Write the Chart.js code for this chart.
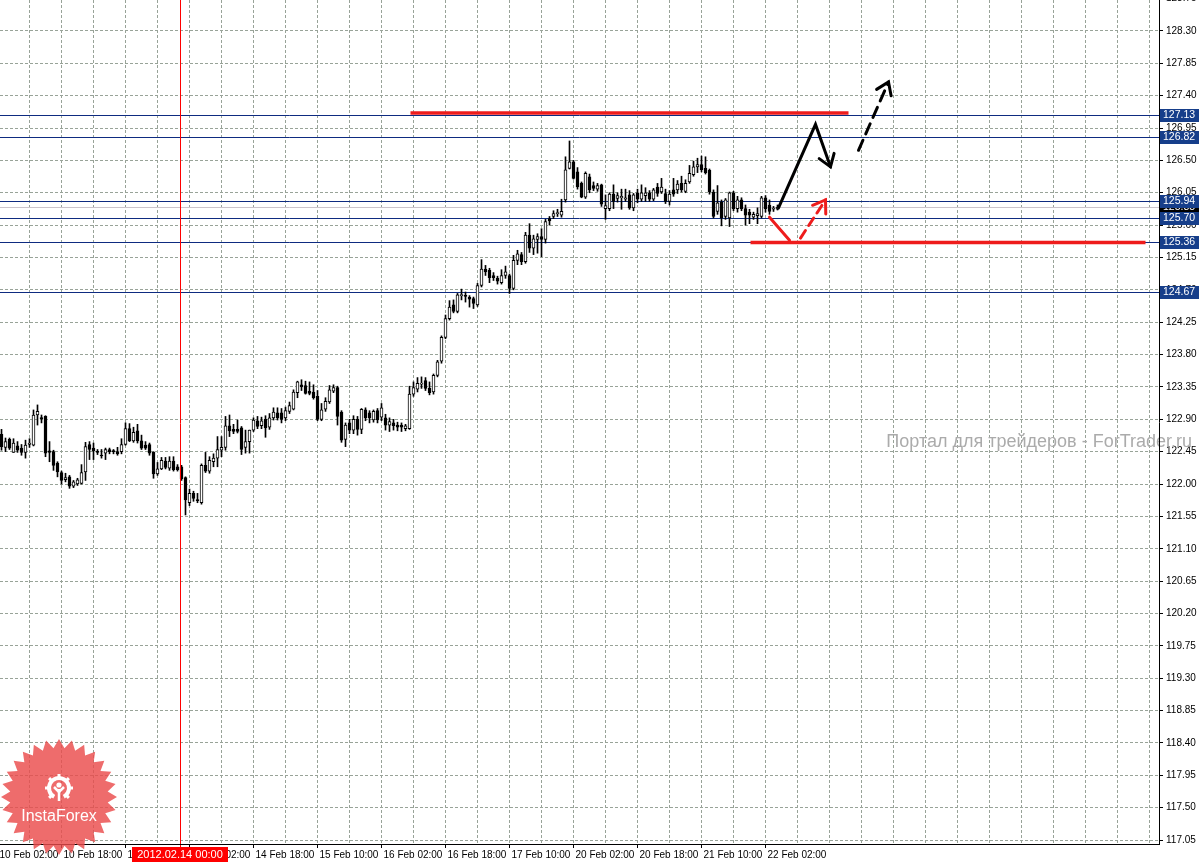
<!DOCTYPE html>
<html>
<head>
<meta charset="utf-8">
<script src="https://cdn.jsdelivr.net/npm/chart.js@4.4.1/dist/chart.umd.min.js"></script>
<style>
  html, body { margin: 0; padding: 0; background: #fff; overflow: hidden; }
  #wrap { width: 1199px; height: 862px; position: relative; }
</style>
</head>
<body>
<div id="wrap"><canvas id="chart"></canvas></div>
<script>
// H1 bars from 10 Feb 03:00 to 22 Feb 05:00 (index 0 = first bar)
const opens = [
  122.69,122.51,122.62,122.44,122.53,122.50,122.44,122.55,122.54,122.96,
  122.92,122.94,122.46,122.45,122.29,122.16,122.06,122.10,121.97,122.00,
  122.01,122.17,122.55,122.50,122.45,122.40,122.43,122.48,122.46,122.45,
  122.45,122.55,122.77,122.60,122.74,122.60,122.54,122.55,122.44,122.14,
  122.21,122.32,122.22,122.32,122.24,122.24,122.09,121.74,121.87,121.78,
  121.74,122.26,122.18,122.31,122.36,122.47,122.51,122.81,122.76,122.76,
  122.78,122.51,122.59,122.75,122.88,122.81,122.90,122.79,122.92,122.99,
  122.99,122.92,123.01,123.04,123.27,123.38,123.37,123.29,123.28,123.22,
  122.90,123.04,123.14,123.29,123.34,123.00,122.62,122.85,122.75,122.90,
  122.76,123.03,122.99,122.89,123.02,122.93,122.92,122.82,122.85,122.82,
  122.82,122.77,122.77,123.25,123.32,123.39,123.44,123.33,123.28,123.51,
  123.71,124.04,124.30,124.49,124.40,124.62,124.62,124.60,124.58,124.49,
  124.76,124.99,124.97,124.90,124.86,124.80,124.90,124.90,124.72,125.11,
  125.19,125.09,125.46,125.28,125.40,125.44,125.40,125.69,125.72,125.76,
  125.74,125.95,126.39,126.48,126.34,126.18,125.99,126.27,126.15,126.10,
  126.16,125.83,125.83,126.03,125.97,125.98,125.96,126.02,125.84,126.05,
  125.96,126.01,126.05,125.96,126.13,126.06,126.04,125.93,126.09,126.09,
  126.18,126.07,126.20,126.30,126.41,126.44,126.39,126.36,126.06,125.79,
  125.92,125.72,125.70,126.05,125.83,125.95,125.83,125.78,125.71,125.73,
  125.72,125.98,125.88,125.82,125.82
];
const highs = [
  122.76,122.64,122.64,122.63,122.59,122.55,122.61,122.63,123.03,123.10,
  122.96,122.95,122.59,122.47,122.31,122.18,122.15,122.12,122.05,122.08,
  122.27,122.58,122.59,122.57,122.48,122.48,122.50,122.50,122.48,122.51,
  122.63,122.85,122.84,122.79,122.83,122.68,122.59,122.57,122.45,122.30,
  122.37,122.37,122.38,122.38,122.27,122.26,122.10,121.93,121.90,121.87,
  122.28,122.44,122.38,122.42,122.66,122.66,122.94,122.96,122.83,122.89,
  122.80,122.75,122.75,122.92,122.94,122.93,122.95,122.98,123.06,123.06,
  123.05,123.07,123.14,123.31,123.43,123.45,123.43,123.42,123.38,123.30,
  123.12,123.20,123.37,123.38,123.36,123.02,122.85,122.90,122.95,122.94,
  123.05,123.06,123.02,123.03,123.05,123.12,122.97,122.92,122.90,122.86,
  122.85,122.83,123.36,123.42,123.48,123.49,123.48,123.42,123.53,123.72,
  124.06,124.35,124.55,124.56,124.65,124.71,124.67,124.62,124.60,124.79,
  125.12,125.04,125.00,124.94,124.89,124.98,125.03,124.92,125.18,125.25,
  125.22,125.50,125.62,125.46,125.48,125.55,125.68,125.72,125.80,125.82,
  125.96,126.55,126.77,126.50,126.40,126.20,126.34,126.31,126.20,126.18,
  126.17,126.02,126.05,126.16,126.05,126.10,126.10,126.08,126.04,126.10,
  126.16,126.12,126.08,126.11,126.18,126.25,126.10,126.08,126.25,126.22,
  126.28,126.23,126.43,126.49,126.53,126.56,126.55,126.38,126.09,126.15,
  125.95,125.97,126.06,126.07,126.00,125.98,125.88,125.82,125.78,125.84,
  126.00,126.01,125.95,125.86,125.88
];
const lows = [
  122.47,122.45,122.48,122.44,122.44,122.40,122.36,122.51,122.53,122.82,
  122.85,122.38,122.31,122.19,122.10,122.00,122.03,121.94,121.95,121.98,
  122.00,122.05,122.34,122.34,122.41,122.36,122.34,122.42,122.42,122.40,
  122.42,122.54,122.59,122.58,122.57,122.48,122.48,122.40,122.08,122.12,
  122.20,122.21,122.19,122.18,122.18,122.05,121.57,121.70,121.76,121.74,
  121.72,122.16,122.15,122.24,122.24,122.38,122.47,122.66,122.70,122.71,
  122.41,122.43,122.43,122.73,122.77,122.77,122.65,122.76,122.89,122.89,
  122.85,122.88,122.98,123.03,123.20,123.30,123.25,123.24,123.18,122.88,
  122.88,123.01,123.12,123.27,122.82,122.58,122.52,122.70,122.70,122.68,
  122.70,122.88,122.85,122.86,122.85,122.88,122.75,122.73,122.75,122.74,
  122.73,122.74,122.76,123.22,123.28,123.33,123.30,123.24,123.25,123.49,
  123.68,124.02,124.28,124.38,124.38,124.56,124.53,124.46,124.44,124.47,
  124.74,124.90,124.80,124.83,124.78,124.78,124.86,124.65,124.70,125.05,
  125.05,125.07,125.22,125.19,125.21,125.16,125.35,125.60,125.69,125.72,
  125.71,125.92,126.38,126.24,126.10,125.98,125.97,126.05,126.08,126.07,
  125.86,125.68,125.80,125.83,125.92,125.82,125.93,125.82,125.80,125.91,
  125.93,125.93,125.93,125.94,126.00,126.04,125.90,125.88,126.00,126.04,
  126.06,126.05,126.18,126.28,126.33,126.34,126.31,126.03,125.70,125.75,
  125.59,125.68,125.58,125.80,125.78,125.80,125.60,125.62,125.68,125.62,
  125.70,125.78,125.75,125.79,125.81
];
const closes = [
  122.52,122.59,122.50,122.57,122.47,122.44,122.54,122.57,122.96,123.01,
  122.91,122.43,122.44,122.26,122.17,122.05,122.09,121.97,122.03,122.06,
  122.16,122.52,122.48,122.46,122.44,122.39,122.48,122.45,122.45,122.42,
  122.55,122.77,122.60,122.72,122.60,122.50,122.50,122.43,122.14,122.21,
  122.33,122.23,122.32,122.20,122.20,122.07,121.78,121.87,121.80,121.77,
  122.26,122.18,122.33,122.36,122.48,122.51,122.81,122.74,122.73,122.73,
  122.48,122.59,122.75,122.89,122.80,122.88,122.78,122.92,123.00,122.92,
  122.90,123.02,123.09,123.28,123.42,123.35,123.26,123.26,123.20,122.90,
  123.03,123.15,123.31,123.34,122.94,122.61,122.82,122.75,122.90,122.76,
  123.04,122.92,122.92,123.01,122.89,123.06,122.82,122.87,122.81,122.79,
  122.79,122.81,123.25,123.34,123.40,123.40,123.33,123.27,123.51,123.70,
  124.04,124.30,124.46,124.40,124.63,124.63,124.61,124.57,124.51,124.76,
  124.99,124.95,124.87,124.87,124.82,124.90,124.95,124.72,125.11,125.20,
  125.09,125.46,125.28,125.41,125.44,125.40,125.65,125.66,125.76,125.77,
  125.79,126.37,126.48,126.25,126.13,125.99,126.32,126.09,126.11,126.15,
  125.89,125.87,126.03,125.93,126.01,126.00,125.98,125.84,126.02,125.96,
  126.05,126.05,125.96,126.09,126.04,126.13,125.93,126.03,126.03,126.17,
  126.09,126.18,126.32,126.41,126.44,126.37,126.33,126.06,125.72,125.91,
  125.70,125.95,126.05,125.83,125.95,125.83,125.74,125.74,125.75,125.76,
  125.98,125.83,125.79,125.83,125.85
];

// time axis labels (bar index -> text)
const xTickIdx = [-1, 15, 31, 47, 63, 79, 95, 111, 127, 143, 159, 175, 191];
const xTickText = ['10 Feb 02:00', '10 Feb 18:00', '13 Feb 10:00', '14 Feb 02:00', '14 Feb 18:00',
  '15 Feb 10:00', '16 Feb 02:00', '16 Feb 18:00', '17 Feb 10:00', '20 Feb 02:00',
  '20 Feb 18:00', '21 Feb 10:00', '22 Feb 02:00'];

const yTicks = [117.05, 117.50, 117.95, 118.40, 118.85, 119.30, 119.75, 120.20, 120.65, 121.10,
  121.55, 122.00, 122.45, 122.90, 123.35, 123.80, 124.25, 124.70, 125.15, 125.60,
  126.05, 126.50, 126.95, 127.40, 127.85, 128.30, 128.75];

const levels = [127.13, 126.82, 125.94, 125.70, 125.36, 124.67];
const bidPrice = 125.85;
const markedIdx = 45;
const markedText = '2012.02.14 00:00';

// hand drawn marks, [bar index, price]
const redBars = [[[102.25, 127.16], [211.75, 127.16]], [[187.25, 125.36], [286, 125.36]]];
const arrows = [
  { pts: [[194.25, 125.84], [203.5, 127.0], [207.25, 126.41]], color: '#000', dash: [], head: true },
  { pts: [[214.25, 126.64], [221.75, 127.59]], color: '#000', dash: [11, 7], head: true },
  { pts: [[192, 125.71], [197, 125.39]], color: '#ee1c1c', dash: [], head: false },
  { pts: [[199.75, 125.42], [206, 125.95]], color: '#ee1c1c', dash: [9, 6], head: true }
];

const watermark = 'Портал для трейдеров - ForTrader.ru';
const gridColor = '#98a398';
const font = '"Liberation Sans", Arial, sans-serif';

const gridIdx = [];
for (let i = -1; i <= 289; i += 8) gridIdx.push(i);

const bodies = opens.map((o, i) => ({ x: i, y: [Math.min(o, closes[i]), Math.max(o, closes[i])] }));
const wicks = highs.map((h, i) => ({ x: i, y: [lows[i], h] }));
const bodyColors = opens.map((o, i) => closes[i] >= o ? '#ffffff' : '#000000');

function seg(ctx, x0, y0, x1, y1) {
  ctx.beginPath();
  ctx.moveTo(x0, y0);
  ctx.lineTo(x1, y1);
  ctx.stroke();
}

function arrowHead(ctx, x0, y0, x1, y1) {
  const a = Math.atan2(y1 - y0, x1 - x0), len = 14, w = 0.6;
  ctx.setLineDash([]);
  ctx.beginPath();
  ctx.moveTo(x1 - len * Math.cos(a - w), y1 - len * Math.sin(a - w));
  ctx.lineTo(x1, y1);
  ctx.lineTo(x1 - len * Math.cos(a + w), y1 - len * Math.sin(a + w));
  ctx.stroke();
}

function drawLogo(ctx, cx, cy) {
  const n = 28, ro = 58, ri = 49;
  ctx.save();
  ctx.fillStyle = 'rgba(234, 76, 76, 0.82)';
  ctx.beginPath();
  for (let i = 0; i < n * 2; i++) {
    const r = i % 2 ? ri : ro;
    const t = -Math.PI / 2 + i * Math.PI / n;
    const px = cx + r * Math.cos(t), py = cy + r * Math.sin(t);
    if (i === 0) ctx.moveTo(px, py); else ctx.lineTo(px, py);
  }
  ctx.closePath();
  ctx.fill();

  // gear icon
  const iy = cy - 9;
  ctx.strokeStyle = '#fff';
  ctx.fillStyle = '#fff';
  ctx.lineWidth = 4;
  ctx.beginPath();
  ctx.arc(cx, iy, 10, Math.PI / 2 + 0.5, Math.PI / 2 - 0.5 + Math.PI * 2);
  ctx.stroke();
  ctx.lineWidth = 3;
  for (let k = 0; k < 8; k++) {
    const t = -Math.PI / 2 + k * Math.PI / 4;
    if (Math.abs(Math.sin(t) - 1) < 0.1) continue;
    seg(ctx, cx + 11 * Math.cos(t), iy + 11 * Math.sin(t), cx + 14 * Math.cos(t), iy + 14 * Math.sin(t));
  }
  ctx.beginPath();
  ctx.arc(cx, iy - 3, 2.6, 0, Math.PI * 2);
  ctx.fill();
  ctx.lineWidth = 2.5;
  seg(ctx, cx, iy + 1, cx, iy + 13);
  seg(ctx, cx - 5, iy - 1, cx, iy + 4);
  seg(ctx, cx + 5, iy - 1, cx, iy + 4);

  ctx.font = '16px ' + font;
  ctx.textAlign = 'center';
  ctx.textBaseline = 'alphabetic';
  ctx.fillText('InstaForex', cx, cy + 24);
  ctx.restore();
}

const overlay = {
  id: 'overlay',
  beforeDatasetsDraw(chart) {
    const { ctx, chartArea: a, scales: { y } } = chart;
    ctx.save();
    ctx.font = '18px ' + font;
    ctx.fillStyle = '#ababab';
    ctx.textAlign = 'right';
    ctx.textBaseline = 'alphabetic';
    ctx.fillText(watermark, a.right + 33, 447);

    ctx.lineWidth = 1;
    ctx.strokeStyle = '#cbc4cb';
    let yy = Math.round(y.getPixelForValue(bidPrice)) + 0.5;
    seg(ctx, a.left, yy, a.right, yy);

    ctx.strokeStyle = '#0e2b80';
    levels.forEach(v => {
      yy = Math.round(y.getPixelForValue(v)) + 0.5;
      seg(ctx, a.left, yy, a.right, yy);
    });
    ctx.restore();
  },
  afterDatasetsDraw(chart) {
    const { ctx, chartArea: a, scales: { x, y } } = chart;
    ctx.save();
    ctx.strokeStyle = '#ff0000';
    ctx.lineWidth = 1;
    const mx = Math.floor(x.getPixelForValue(markedIdx)) - 0.5;
    seg(ctx, mx, 0, mx, a.bottom + 3);

    ctx.strokeStyle = '#ee1c1c';
    ctx.lineWidth = 3.5;
    redBars.forEach(([p0, p1]) => {
      seg(ctx, x.getPixelForValue(p0[0]), y.getPixelForValue(p0[1]),
        x.getPixelForValue(p1[0]), y.getPixelForValue(p1[1]));
    });

    ctx.lineWidth = 3;
    ctx.lineCap = 'round';
    arrows.forEach(ar => {
      const pts = ar.pts.map(p => [x.getPixelForValue(p[0]), y.getPixelForValue(p[1])]);
      ctx.strokeStyle = ar.color;
      ctx.setLineDash(ar.dash);
      ctx.beginPath();
      pts.forEach((p, i) => i ? ctx.lineTo(p[0], p[1]) : ctx.moveTo(p[0], p[1]));
      ctx.stroke();
      if (ar.head) {
        const p0 = pts[pts.length - 2], p1 = pts[pts.length - 1];
        arrowHead(ctx, p0[0], p0[1], p1[0], p1[1]);
      }
    });
    ctx.restore();
  },
  afterDraw(chart) {
    const { ctx, chartArea: a, scales: { x, y } } = chart;
    ctx.save();
    ctx.strokeStyle = '#000';
    ctx.lineWidth = 1;
    seg(ctx, a.right + 0.5, 0, a.right + 0.5, a.bottom + 1);
    seg(ctx, 0, a.bottom + 0.5, a.right + 1, a.bottom + 0.5);

    ctx.font = '10.5px ' + font;
    ctx.textAlign = 'left';
    ctx.textBaseline = 'middle';
    const tag = (v, bg) => {
      const yy = Math.round(y.getPixelForValue(v));
      ctx.fillStyle = bg;
      ctx.fillRect(a.right + 1, yy - 6, chart.width - a.right - 1, 13);
      ctx.fillStyle = '#fff';
      ctx.fillText(v.toFixed(2), a.right + 4, yy + 0.5);
    };
    tag(bidPrice, '#000');
    levels.forEach(v => tag(v, '#163e8a'));

    const mx = Math.floor(x.getPixelForValue(markedIdx));
    ctx.fillStyle = '#ff0000';
    ctx.fillRect(mx - 49, a.bottom + 3, 96, 15);
    ctx.fillStyle = '#fff';
    ctx.font = '11px ' + font;
    ctx.textAlign = 'center';
    ctx.fillText(markedText, mx - 1, a.bottom + 11);
    ctx.restore();

    drawLogo(ctx, 59, 797);
  }
};

new Chart(document.getElementById('chart'), {
  type: 'bar',
  data: {
    datasets: [
      {
        data: bodies,
        backgroundColor: bodyColors,
        borderColor: '#000',
        borderWidth: 1,
        borderSkipped: false,
        barThickness: 3,
        minBarLength: 1,
        grouped: false,
        order: 1
      },
      {
        data: wicks,
        backgroundColor: '#000',
        borderWidth: 0,
        barThickness: 1,
        grouped: false,
        order: 2
      }
    ]
  },
  options: {
    responsive: true,
    maintainAspectRatio: false,
    animation: false,
    devicePixelRatio: 1,
    layout: { padding: 0 },
    plugins: { legend: { display: false }, tooltip: { enabled: false } },
    scales: {
      x: {
        type: 'linear',
        min: -0.375,
        max: 289.375,
        offset: false,
        grid: {
          offset: false,
          color: gridColor,
          tickLength: 4,
          tickColor: c => xTickIdx.includes(c.tick && c.tick.value) ? '#000' : 'rgba(0,0,0,0)'
        },
        border: { display: false, dash: [3, 2] },
        ticks: {
          autoSkip: false,
          maxRotation: 0,
          align: 'start',
          labelOffset: 2,
          padding: 1,
          color: '#000',
          font: { family: font, size: 10 },
          callback: v => {
            const k = xTickIdx.indexOf(v);
            return k >= 0 ? xTickText[k] : '';
          }
        },
        afterBuildTicks: s => { s.ticks = gridIdx.map(v => ({ value: v })); },
        afterFit: s => { s.height = 18; s.paddingLeft = 0; s.paddingRight = 0; }
      },
      y: {
        position: 'right',
        min: 116.995,
        max: 128.73,
        beginAtZero: false,
        grid: { color: gridColor, tickLength: 4, tickColor: '#000' },
        border: { display: false, dash: [3, 2] },
        ticks: {
          padding: 3,
          color: '#000',
          font: { family: font, size: 10 },
          callback: v => v.toFixed(2)
        },
        afterBuildTicks: s => { s.ticks = yTicks.map(v => ({ value: v })); },
        afterFit: s => { s.width = 40; s.paddingTop = 0; s.paddingBottom = 0; }
      }
    }
  },
  plugins: [overlay]
});
</script>
</body>
</html>
